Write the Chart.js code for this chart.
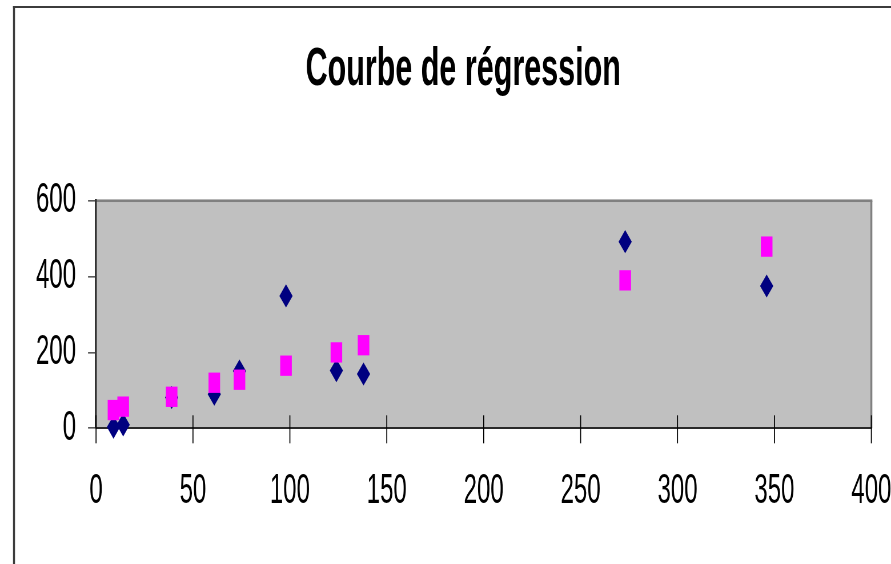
<!DOCTYPE html>
<html><head><meta charset="utf-8">
<script src="https://cdn.jsdelivr.net/npm/chart.js@4.4.1/dist/chart.umd.min.js"></script>
<style>
html,body{margin:0;padding:0;background:#fff;overflow:hidden}
#wrap{width:891px;height:564px;position:relative}
canvas{display:block}
</style></head><body>
<div id="wrap"><canvas id="c" width="891" height="322" style="width:891px;height:564px"></canvas></div>
<script>
const chartTitle = 'Courbe de régression';
const xValues   = [9, 14, 39, 61, 74, 98, 124, 138, 273, 346];
const observed  = [3, 9, 81, 90, 151, 349, 152, 143, 492, 375];
const predicted = [48, 57, 83, 120, 128, 165, 200, 219, 390, 479];
const xTickLabels = [0, 50, 100, 150, 200, 250, 300, 350, 400];
const yTickLabels = [0, 200, 400, 600];

const SY = 564 / 322;           // vertical stretch of the picture
const FONT = "'Liberation Sans', Arial, sans-serif";

function toPoints(xs, ys){ return xs.map((x,i)=>({x:x, y:ys[i]})); }

const framePlugin = {
  id: 'frame',
  beforeDraw(chart){
    const {ctx, chartArea:a} = chart;
    ctx.save();
    ctx.fillStyle = '#ffffff';
    ctx.fillRect(0,0,chart.width,chart.height);
    ctx.fillStyle = '#C0C0C0';
    ctx.fillRect(a.left, a.top, a.right-a.left, a.bottom-a.top);
    // outer chart frame
    ctx.fillStyle = '#3c3c3c';
    ctx.fillRect(13, 6/SY, 2, chart.height);
    ctx.fillRect(13, 6/SY, chart.width, 2/SY);
    // plot area top / right border
    ctx.fillStyle = '#808080';
    ctx.fillRect(a.left, a.top - 1.3/SY, a.right - a.left + 1, 2.6/SY);
    ctx.fillRect(a.right - 1, a.top, 2, a.bottom - a.top);
    ctx.restore();
  },
  beforeDatasetsDraw(chart){
    const {ctx, chartArea:a} = chart;
    const xs = chart.scales.x;
    ctx.save();
    ctx.fillStyle = '#000';
    xs.ticks.forEach(t => {
      const px = xs.getPixelForValue(t.value);
      ctx.fillRect(px - 0.5, a.bottom - 7.4, 1, 7.4 + 8.6);   // crossing tick mark
    });
    ctx.restore();
  }
};

const chart = new Chart(document.getElementById('c'), {
  type: 'scatter',
  data: {
    datasets: [
      {
        label: 'Prévu',
        data: toPoints(xValues, predicted),
        pointStyle: 'rect',
        pointRadius: 8.2,
        pointHoverRadius: 8.2,
        pointBackgroundColor: '#FF00FF',
        pointBorderWidth: 0,
        showLine: false,
        clip: false,
        order: 0
      },
      {
        label: 'Observé',
        data: toPoints(xValues, observed),
        pointStyle: 'rectRot',
        pointRadius: 6.6,
        pointHoverRadius: 6.6,
        pointBackgroundColor: '#000080',
        pointBorderWidth: 0,
        showLine: false,
        clip: false,
        order: 1
      }
    ]
  },
  options: {
    responsive: false,
    maintainAspectRatio: false,
    devicePixelRatio: SY,
    animation: false,
    events: [],
    layout: { padding: { left: 30, right: -5, top: 0, bottom: 0 } },
    plugins: {
      legend: { display: false },
      tooltip: { enabled: false },
      title: {
        display: true,
        text: chartTitle,
        color: '#000',
        font: { family: FONT, size: 30.5, weight: 'bold', lineHeight: 1.2 },
        padding: { top: 22, bottom: 56 }
      }
    },
    scales: {
      x: {
        type: 'linear',
        min: xTickLabels[0],
        max: xTickLabels[xTickLabels.length-1],
        afterBuildTicks(s){ s.ticks = xTickLabels.map(v=>({value:v})); },
        afterFit(s){ s.height = 77.5; },
        grid: { display: true, drawOnChartArea: false, drawTicks: true, tickLength: 21.4, color: 'rgba(0,0,0,0)', lineWidth: 1 },
        border: { display: true, color: '#2a2a2a', width: 1.2 },
        ticks: { color: '#000', padding: 0, maxRotation: 0, autoSkip: false,
                 font: { family: FONT, size: 24, lineHeight: 1.2 } }
      },
      y: {
        type: 'linear',
        position: 'left',
        min: yTickLabels[0],
        max: yTickLabels[yTickLabels.length-1],
        afterBuildTicks(s){ s.ticks = yTickLabels.map(v=>({value:v})); },
        afterFit(s){ s.width = 66; },
        grid: { display: true, drawOnChartArea: false, drawTicks: true, tickLength: 8, color: '#000', lineWidth: 0.6 },
        border: { display: true, color: '#333', width: 2 },
        ticks: { color: '#000', padding: 12, autoSkip: false,
                 font: { family: FONT, size: 24, lineHeight: 1.2 } }
      },
      yRight: {
        type: 'linear',
        position: 'right',
        display: true,
        min: 0, max: 1,
        afterFit(s){ s.width = 25; },
        grid: { display: false, drawTicks: false },
        border: { display: false },
        ticks: { display: false }
      }
    }
  },
  plugins: [framePlugin]
});
chart.canvas.style.width = '891px';
chart.canvas.style.height = '564px';
</script>
</body></html>
